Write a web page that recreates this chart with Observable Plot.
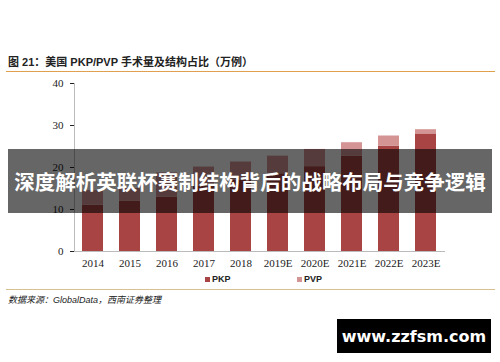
<!DOCTYPE html>
<html><head><meta charset="utf-8">
<script src="https://cdn.jsdelivr.net/npm/d3@7"></script>
<script src="https://cdn.jsdelivr.net/npm/@observablehq/plot@0.6"></script>
<style>
html,body{margin:0;padding:0;background:#fff;}
#wrap{position:relative;width:500px;height:362px;overflow:hidden;font-family:"Liberation Sans","Noto Sans CJK SC",sans-serif;}
#title{position:absolute;left:8px;top:53px;font-size:11px;font-weight:bold;color:#222;white-space:nowrap;font-family:"Liberation Sans","Noto Sans CJK SC",sans-serif;}
#tline{position:absolute;left:6px;top:71px;width:489px;height:1px;background:#e0a050;}
#chart{position:absolute;left:0;top:75px;}
#legend{position:absolute;top:274px;left:0;width:500px;height:12px;font-size:9px;font-weight:bold;color:#222;}
.li{position:absolute;top:0;display:flex;align-items:center;gap:2px;}
.sw{width:5px;height:5px;display:inline-block;}
#bline{position:absolute;left:6px;top:289px;width:489px;height:1px;background:#d8c090;}
#src{position:absolute;left:8px;top:293px;font-size:9px;font-style:italic;color:#222;white-space:nowrap;}
#banner{position:absolute;left:8px;top:149px;width:484px;height:64px;background:rgba(0,0,0,0.6);color:#fff;font-weight:bold;font-size:20.5px;display:flex;align-items:center;justify-content:center;font-family:"Noto Sans CJK SC",sans-serif;white-space:nowrap;z-index:5;overflow:hidden;}
#wm{position:absolute;left:337px;top:319px;width:154px;height:34px;background:#000;color:#fff;font-weight:bold;font-size:16px;display:flex;align-items:center;justify-content:center;font-family:"DejaVu Sans","Liberation Sans",sans-serif;z-index:5;}
</style></head>
<body><div id="wrap">
<div id="title">图 21：美国 PKP/PVP 手术量及结构占比（万例）</div>
<div id="tline"></div>
<div id="chart"></div>
<div id="legend"></div>
<div id="bline"></div>
<div id="src">数据来源：GlobalData，西南证券整理</div>
<div id="banner">深度解析英联杯赛制结构背后的战略布局与竞争逻辑</div>
<div id="wm">www.zzfsm.com</div>
</div>
<script>
const years = ["2014","2015","2016","2017","2018","2019E","2020E","2021E","2022E","2023E"];
const seriesNames = ["PKP","PVP"];
const pkp = [11.0, 12.0, 12.9, 15.5, 17.0, 18.5, 20.2, 22.7, 25.1, 28.0];
const pvp = [3.5, 3.0, 5.8, 4.6, 4.3, 4.2, 4.1, 3.2, 2.4, 1.0];
const seriesColors = ["#a84444", "#d49494"];
const yTicks = [0, 10, 20, 30, 40];

const rows = [];
years.forEach((y, i) => {
  rows.push({year: y, series: "PKP", value: pkp[i]});
  rows.push({year: y, series: "PVP", value: pvp[i]});
});

const chart = Plot.plot({
  width: 500,
  height: 200,
  marginLeft: 74,
  marginRight: 55,
  marginTop: 8,
  marginBottom: 24,
  style: {fontFamily: "'Liberation Serif', serif", fontSize: "11px", color: "#222", background: "transparent"},
  x: {domain: years, padding: 0.43, paddingOuter: 0.215, label: null, tickSize: 0, tickPadding: 8},
  y: {domain: [0, 40], ticks: yTicks, label: null, tickSize: 4, tickPadding: 7},
  color: {domain: seriesNames, range: seriesColors},
  marks: [
    Plot.barY(rows, Plot.stackY({x: "year", y: "value", fill: "series", order: seriesNames})),
    Plot.ruleY([0], {stroke: "#bbb"})
  ]
});
document.getElementById("chart").appendChild(chart);
// y axis line along the left edge, from the y scale
const ys = chart.scale("y");
d3.select(chart).append("line")
  .attr("x1", 74.5).attr("x2", 74.5)
  .attr("y1", ys.apply(40)).attr("y2", ys.apply(0))
  .attr("stroke", "#bbb");

// legend from data
const leg = document.getElementById("legend");
const legX = [205, 297];
seriesNames.forEach((s, i) => {
  const d = document.createElement("div");
  d.className = "li";
  d.style.left = legX[i] + "px";
  d.innerHTML = `<span class="sw" style="background:${seriesColors[i]}"></span><span>${s}</span>`;
  leg.appendChild(d);
});
</script>
</body></html>
